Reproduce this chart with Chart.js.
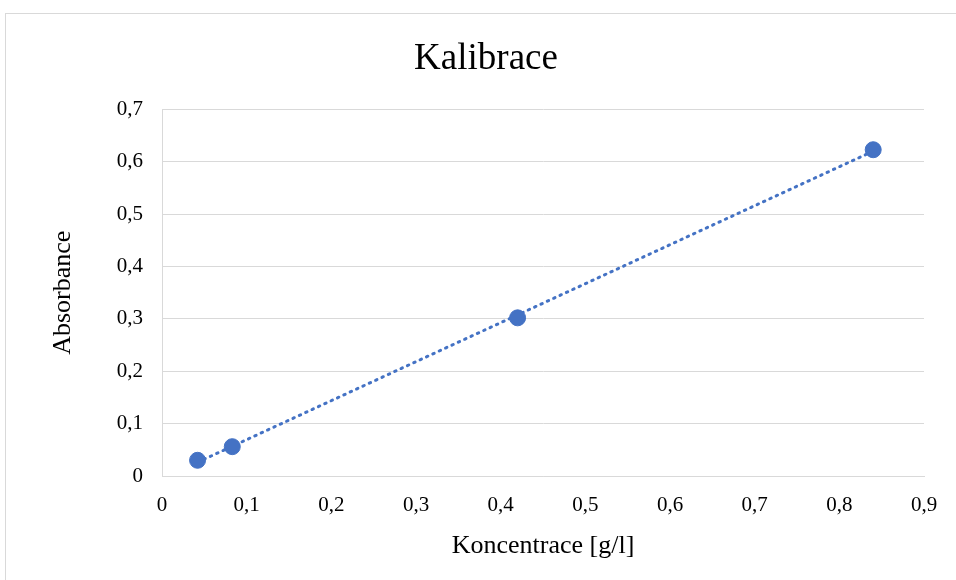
<!DOCTYPE html>
<html lang="cs">
<head>
  <meta charset="UTF-8">
  <title>Kalibrace</title>
  <script src="https://cdn.jsdelivr.net/npm/chart.js"></script>
  <style>
    body {
      margin: 0;
      background: #fff;
      overflow: hidden;
    }
    /* light frame around the chart, like the spreadsheet chart box */
    .frame {
      position: absolute;
      left: 5px;
      top: 13px;
      width: 1200px;
      height: 800px;
      border: 1px solid #d9d9d9;
    }
    .chart-container {
      position: absolute;
      left: 0;
      top: 0;
      width: 956px;
      height: 580px;
    }
  </style>
</head>
<body>

<div class="frame"></div>
<div class="chart-container">
  <canvas id="calChart"></canvas>
</div>

<script>
  // measured points (concentration g/l, absorbance)
  const concentration = [0.042, 0.083, 0.42, 0.84];
  const absorbance = [0.030, 0.056, 0.302, 0.623];

  const xTicks = [0, 0.1, 0.2, 0.3, 0.4, 0.5, 0.6, 0.7, 0.8, 0.9];
  const yTicks = [0, 0.1, 0.2, 0.3, 0.4, 0.5, 0.6, 0.7];

  const points = concentration.map((x, i) => ({ x: x, y: absorbance[i] }));

  // linear trendline (least squares) over the measured range
  const n = concentration.length;
  const mx = concentration.reduce((a, b) => a + b, 0) / n;
  const my = absorbance.reduce((a, b) => a + b, 0) / n;
  let sxy = 0, sxx = 0;
  for (let i = 0; i < n; i++) {
    sxy += (concentration[i] - mx) * (absorbance[i] - my);
    sxx += (concentration[i] - mx) * (concentration[i] - mx);
  }
  const slope = sxy / sxx;
  const intercept = my - slope * mx;
  const xMin = Math.min(...concentration);
  const xMax = Math.max(...concentration);
  const trend = [
    { x: xMin, y: intercept + slope * xMin },
    { x: xMax, y: intercept + slope * xMax }
  ];

  const fmt = v => (Math.abs(v) < 1e-9 ? '0' : v.toFixed(1).replace('.', ','));
  const serif = 'Liberation Serif, Times New Roman, serif';
  const blue = '#4472c4';
  const grid = '#d9d9d9';

  const ctx = document.getElementById('calChart').getContext('2d');
  new Chart(ctx, {
    type: 'scatter',
    data: {
      datasets: [{
        label: 'Trend',
        data: trend,
        showLine: true,
        borderColor: blue,
        borderWidth: 3,
        borderDash: [1.5, 5.5],
        borderCapStyle: 'round',
        pointRadius: 0,
        order: 2
      }, {
        label: 'Kalibrace',
        data: points,
        backgroundColor: blue,
        borderColor: blue,
        pointRadius: 8,
        order: 1
      }]
    },
    options: {
      responsive: true,
      maintainAspectRatio: false,
      animation: false,
      layout: {
        padding: { left: 48, right: 32, top: 0, bottom: 12 }
      },
      plugins: {
        legend: { display: false },
        tooltip: { enabled: false },
        title: {
          display: true,
          text: 'Kalibrace',
          color: '#000',
          font: { family: serif, size: 37, weight: 'normal' },
          padding: { top: 37, bottom: 28 }
        }
      },
      scales: {
        x: {
          type: 'linear',
          min: 0,
          max: 0.9,
          afterBuildTicks: axis => { axis.ticks = xTicks.map(v => ({ value: v })); },
          afterFit: axis => { axis.height = 92; },
          grid: { display: false, drawTicks: false },
          border: { display: true, color: grid, width: 1 },
          ticks: {
            color: '#000',
            padding: 17,
            font: { family: serif, size: 21 },
            callback: v => fmt(v)
          },
          title: {
            display: true,
            text: 'Koncentrace [g/l]',
            color: '#000',
            font: { family: serif, size: 26 },
            padding: { top: 4, bottom: 6 }
          }
        },
        y: {
          type: 'linear',
          min: 0,
          max: 0.7,
          afterBuildTicks: axis => { axis.ticks = yTicks.map(v => ({ value: v })); },
          afterFit: axis => { axis.width = 114; },
          grid: { color: grid, lineWidth: 1, drawTicks: false },
          border: { display: true, color: grid, width: 1 },
          ticks: {
            color: '#000',
            padding: 19,
            font: { family: serif, size: 21 },
            callback: v => fmt(v)
          },
          title: {
            display: true,
            text: 'Absorbance',
            color: '#000',
            font: { family: serif, size: 26 },
            padding: { top: 0, bottom: 0 }
          }
        }
      }
    }
  });
</script>

</body>
</html>
